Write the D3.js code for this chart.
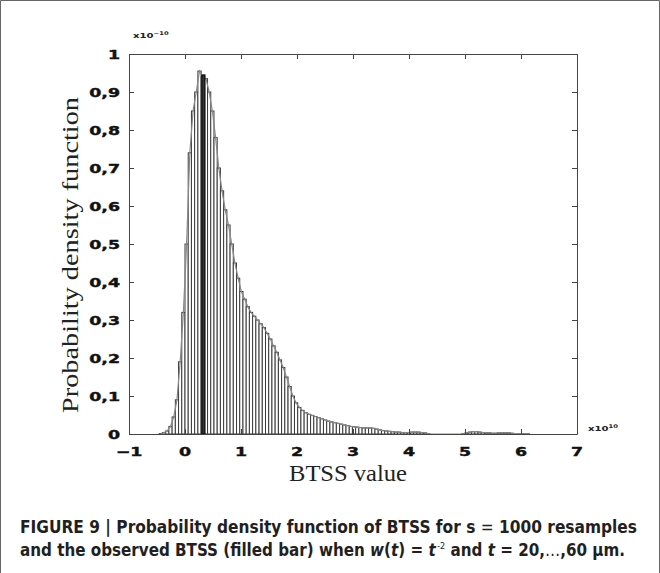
<!DOCTYPE html>
<html>
<head>
<meta charset="utf-8">
<script src="https://cdn.jsdelivr.net/npm/d3@7"></script>
<style>
  body { margin: 0; background: #fff; }
  svg { display: block; }
</style>
</head>
<body>
<div id="base"></div>
<script>
// histogram of bootstrap BTSS values (x in 1e10, density in 1e-10)
var binStart = -0.46;
var binWidth = 0.0575;
var density = [
  0.001, 0.004, 0.008, 0.02, 0.045, 0.09, 0.19, 0.32, 0.50, 0.74,
  0.85, 0.90, 0.955, 0.94, 0.935, 0.90, 0.85, 0.78, 0.70, 0.64,
  0.59, 0.55, 0.50, 0.45, 0.41, 0.375, 0.355, 0.335, 0.32, 0.31,
  0.30, 0.29, 0.28, 0.265, 0.25, 0.232, 0.215, 0.195, 0.175, 0.15,
  0.125, 0.10, 0.082, 0.07, 0.062, 0.056, 0.052, 0.049, 0.046, 0.043,
  0.040, 0.037, 0.034, 0.032, 0.030, 0.028, 0.026, 0.024, 0.022, 0.020,
  0.019, 0.018, 0.017, 0.016, 0.016, 0.016, 0.015, 0.013, 0.011, 0.009,
  0.008, 0.007, 0.006, 0.005, 0.005, 0.004, 0.004, 0.004, 0.005, 0.005,
  0.005, 0.004, 0.003, 0.001, 0, 0, 0, 0, 0, 0,
  0, 0, 0, 0, 0.001, 0.003, 0.005, 0.006, 0.006, 0.005,
  0.004, 0.003, 0.003, 0.002, 0.002, 0.003, 0.003, 0.003, 0.003, 0.002,
  0.001, 0.001, 0.0005, 0.0005, 0.0003
];
// observed BTSS (filled bar)
var observedX = 0.3;
var observedDensity = 0.945;

var xTicks = [-1, 0, 1, 2, 3, 4, 5, 6, 7];
var yTicks = [0, 0.1, 0.2, 0.3, 0.4, 0.5, 0.6, 0.7, 0.8, 0.9, 1];

var width = 660, height = 573;
var margin = {left: 129, right: 83, top: 54, bottom: 139};

var bins = density.map((d, i) => ({x0: binStart + i * binWidth, x1: binStart + (i + 1) * binWidth, y: d}));

const svg = d3.select("#base").append("svg")
    .attr("width", width)
    .attr("height", height);

// figure frame
svg.append("path")
    .attr("d", "M0.5,573V0.5H659.5V573")
    .attr("fill", "none")
    .attr("stroke", "#666");

const x = d3.scaleLinear().domain([-1, 7]).range([margin.left, width - margin.right]);
const y = d3.scaleLinear().domain([0, 1]).range([height - margin.bottom, margin.top]);

// bars
svg.append("g")
    .attr("fill", "#fff")
    .attr("stroke", "#3a3a3a")
    .attr("stroke-width", 1)
  .selectAll("rect")
  .data(bins)
  .join("rect")
    .attr("x", d => x(d.x0))
    .attr("width", d => x(d.x1) - x(d.x0))
    .attr("y", d => y(d.y))
    .attr("height", d => y(0) - y(d.y));

// envelope line over the bar tops
svg.append("path")
    .datum(bins)
    .attr("fill", "none")
    .attr("stroke", "#888")
    .attr("stroke-width", 1.2)
    .attr("d", d3.line().x(d => x((d.x0 + d.x1) / 2)).y(d => y(d.y)));

// observed bar
svg.append("rect")
    .attr("x", x(observedX))
    .attr("width", x(observedX + binWidth) - x(observedX))
    .attr("y", y(observedDensity))
    .attr("height", y(0) - y(observedDensity))
    .attr("fill", "#333")
    .attr("stroke", "#000");

// axes box with inward ticks on all sides
const tickLen = 5;
svg.append("g")
    .attr("transform", `translate(0,${y(0)})`)
    .call(d3.axisBottom(x).tickValues(xTicks).tickSizeInner(-tickLen).tickSizeOuter(0).tickFormat(""));
svg.append("g")
    .attr("transform", `translate(0,${y(1)})`)
    .call(d3.axisTop(x).tickValues(xTicks).tickSizeInner(-tickLen).tickSizeOuter(0).tickFormat(""));
svg.append("g")
    .attr("transform", `translate(${x(-1)},0)`)
    .call(d3.axisLeft(y).tickValues(yTicks).tickSizeInner(-tickLen).tickSizeOuter(0).tickFormat(""));
svg.append("g")
    .attr("transform", `translate(${x(7)},0)`)
    .call(d3.axisRight(y).tickValues(yTicks).tickSizeInner(-tickLen).tickSizeOuter(0).tickFormat(""));
svg.selectAll(".domain, .tick line").attr("stroke", "#444");

// tick labels (wide bold face)
const fmtY = d => d === 0 ? "0" : d === 1 ? "1" : d3.format(".1f")(d).replace(".", ",");
svg.append("g")
  .selectAll("g")
  .data(yTicks)
  .join("g")
    .attr("transform", d => `translate(120,${y(d) + 4.5}) scale(1.45,1)`)
  .append("text")
    .attr("text-anchor", "end")
    .attr("font-family", "DejaVu Sans")
    .attr("font-weight", "bold")
    .attr("font-size", 12)
    .attr("stroke", "#111")
    .attr("stroke-width", 0.4)
    .attr("fill", "#111")
    .text(fmtY);

svg.append("g")
  .selectAll("g")
  .data(xTicks)
  .join("g")
    .attr("transform", d => `translate(${x(d)},456) scale(1.45,1)`)
  .append("text")
    .attr("text-anchor", "middle")
    .attr("font-family", "DejaVu Sans")
    .attr("font-weight", "bold")
    .attr("font-size", 12)
    .attr("stroke", "#111")
    .attr("stroke-width", 0.4)
    .attr("fill", "#111")
    .text(d => d < 0 ? "\u2212" + Math.abs(d) : d);

// exponent labels
function exponent(px, py, sup) {
  const t = svg.append("g")
      .attr("transform", `translate(${px},${py}) scale(1.35,1)`)
    .append("text")
      .attr("font-family", "DejaVu Sans")
      .attr("font-weight", "bold")
      .attr("font-size", 7.5)
      .attr("fill", "#222");
  t.append("tspan").text("x10");
  t.append("tspan").attr("dy", -3.5).attr("font-size", 5).text(sup);
}
exponent(133, 38, "\u221210");
exponent(588, 431, "10");

// axis titles
svg.append("text")
    .attr("transform", "translate(78,255) rotate(-90)")
    .attr("text-anchor", "middle")
    .attr("font-family", "Liberation Serif, serif")
    .attr("font-size", 23)
    .attr("textLength", 316)
    .attr("lengthAdjust", "spacingAndGlyphs")
    .attr("fill", "#222")
    .text("Probability density function");

svg.append("text")
    .attr("x", 348)
    .attr("y", 481)
    .attr("text-anchor", "middle")
    .attr("font-family", "Liberation Serif, serif")
    .attr("font-size", 24)
    .attr("textLength", 118)
    .attr("lengthAdjust", "spacingAndGlyphs")
    .attr("fill", "#222")
    .text("BTSS value");

// caption
const cap = svg.append("g")
    .attr("font-family", "Liberation Sans Narrow, DejaVu Sans Condensed, sans-serif")
    .attr("font-weight", "bold")
    .attr("font-size", 17)
    .attr("fill", "#231f20");

const l1 = cap.append("text").attr("x", 20).attr("y", 533)
    .attr("textLength", 617).attr("lengthAdjust", "spacingAndGlyphs");
l1.append("tspan").text("FIGURE 9 | Probability density function of BTSS for s ");
l1.append("tspan").attr("font-weight", "normal").text("=");
l1.append("tspan").text("  1000 resamples");

const l2 = cap.append("text").attr("x", 20).attr("y", 556)
    .attr("textLength", 605).attr("lengthAdjust", "spacingAndGlyphs");
l2.append("tspan").text("and the observed BTSS (filled bar) when ");
l2.append("tspan").attr("font-style", "italic").text("w");
l2.append("tspan").text("(");
l2.append("tspan").attr("font-style", "italic").text("t");
l2.append("tspan").text(") = ");
l2.append("tspan").attr("font-style", "italic").text("t");
l2.append("tspan").attr("dx", 1.5).attr("dy", -7).attr("font-size", 9).attr("font-weight", "normal").text("-2");
l2.append("tspan").attr("dy", 7).text(" and ");
l2.append("tspan").attr("font-style", "italic").text("t");
l2.append("tspan").text(" = 20,");
l2.append("tspan").attr("font-weight", "normal").text("\u2026");
l2.append("tspan").text(",60 \u00b5m.");
</script>
</body>
</html>
